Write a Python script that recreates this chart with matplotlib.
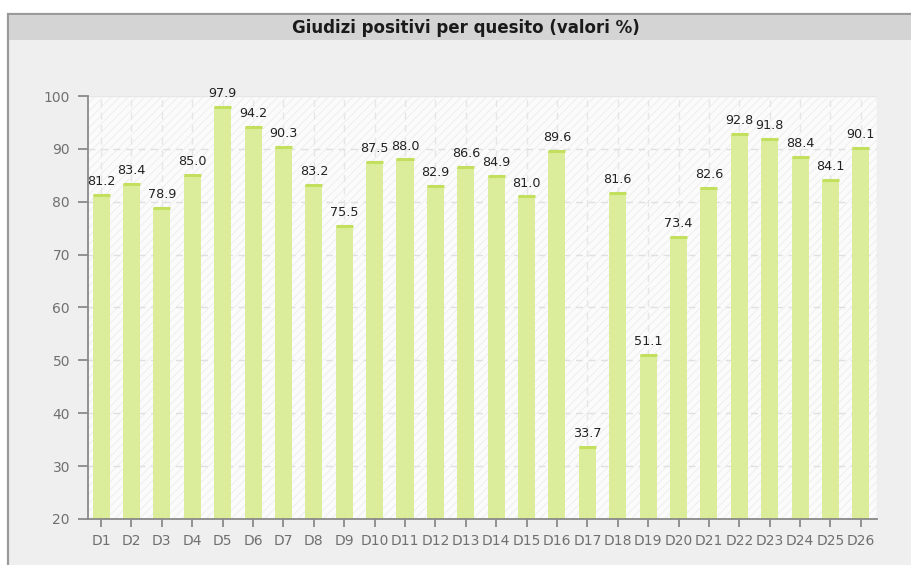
import matplotlib
matplotlib.use("Agg")
import matplotlib.pyplot as plt
from matplotlib.patches import Rectangle

categories = [f"D{i}" for i in range(1, 27)]
values = [81.2, 83.4, 78.9, 85.0, 97.9, 94.2, 90.3, 83.2, 75.5, 87.5,
          88.0, 82.9, 86.6, 84.9, 81.0, 89.6, 33.7, 81.6, 51.1, 73.4,
          82.6, 92.8, 91.8, 88.4, 84.1, 90.1]
title = "Giudizi positivi per quesito (valori %)"
yticks = [20, 30, 40, 50, 60, 70, 80, 90, 100]

plt.rcParams["hatch.linewidth"] = 0.6

W, H = 911, 565
fig = plt.figure(figsize=(W / 100, H / 100), dpi=100, facecolor="white")

# outer panel
fig.patches.append(Rectangle((8 / W, -0.01), 1.0, (H - 14) / H + 0.01,
                             transform=fig.transFigure, facecolor="#efefef",
                             edgecolor="#9a9a9a", linewidth=1.6, zorder=-3))
# title band
fig.patches.append(Rectangle((9 / W, (H - 40) / H), 1.0, 25 / H,
                             transform=fig.transFigure, facecolor="#d4d4d4",
                             edgecolor="none", zorder=-2))
fig.text(466 / W, (H - 28) / H, title, ha="center", va="center",
         fontsize=12, fontweight="bold", color="#1a1a1a")

left, right = 88 / W, 877 / W
bottom, top = (H - 519) / H, (H - 96) / H
ax = fig.add_axes([left, bottom, right - left, top - bottom])
ax.set_facecolor("#fbfbfb")

x = list(range(len(categories)))
ax.set_xlim(-0.43, len(categories) - 1 + 0.53)
ax.set_ylim(20, 100)

# hatched background
bg = Rectangle((0, 0), 1, 1, transform=ax.transAxes, facecolor="none",
               edgecolor="#ececec", hatch="////", linewidth=0, zorder=0)
ax.add_patch(bg)

for yv in yticks[1:-1]:
    ax.axhline(yv, color="#e0e0e0", linestyle=(0, (5, 4)), linewidth=1.0, zorder=1)
for xi in x:
    ax.axvline(xi, color="#e6e6e6", linestyle=(0, (5, 4)), linewidth=1.0, zorder=1)
ax.axhline(100, color="#e6e6e6", linewidth=1.0, zorder=1)
ax.axvline(ax.get_xlim()[1], color="#e6e6e6", linewidth=1.0, zorder=1)

bw = 0.56
ax.bar(x, [v - 20 for v in values], bottom=20, width=bw, color="#daed95",
       edgecolor="none", zorder=2, alpha=0.95)
ax.hlines(values, [xi - bw / 2 for xi in x], [xi + bw / 2 for xi in x],
          colors="#c3df5e", linewidth=2.2, zorder=3)

for xi, v in zip(x, values):
    ax.annotate(f"{v:.1f}", (xi, v), xytext=(0, 5), textcoords="offset points",
                ha="center", va="bottom", fontsize=9.2, color="#222222", zorder=4)

for s in ["top", "right"]:
    ax.spines[s].set_visible(False)
for s in ["left", "bottom"]:
    ax.spines[s].set_color("#8a8a8a")
    ax.spines[s].set_linewidth(1.3)

ax.set_yticks(yticks)
ax.set_yticklabels([str(t) for t in yticks])
ax.set_xticks(x)
ax.set_xticklabels(categories)
ax.tick_params(axis="both", colors="#8a8a8a", labelcolor="#707070",
               labelsize=10, width=1.3)
ax.tick_params(axis="y", length=7, pad=6)
ax.tick_params(axis="x", length=6, pad=5)

fig.savefig("out.png", dpi=100, facecolor="white")
